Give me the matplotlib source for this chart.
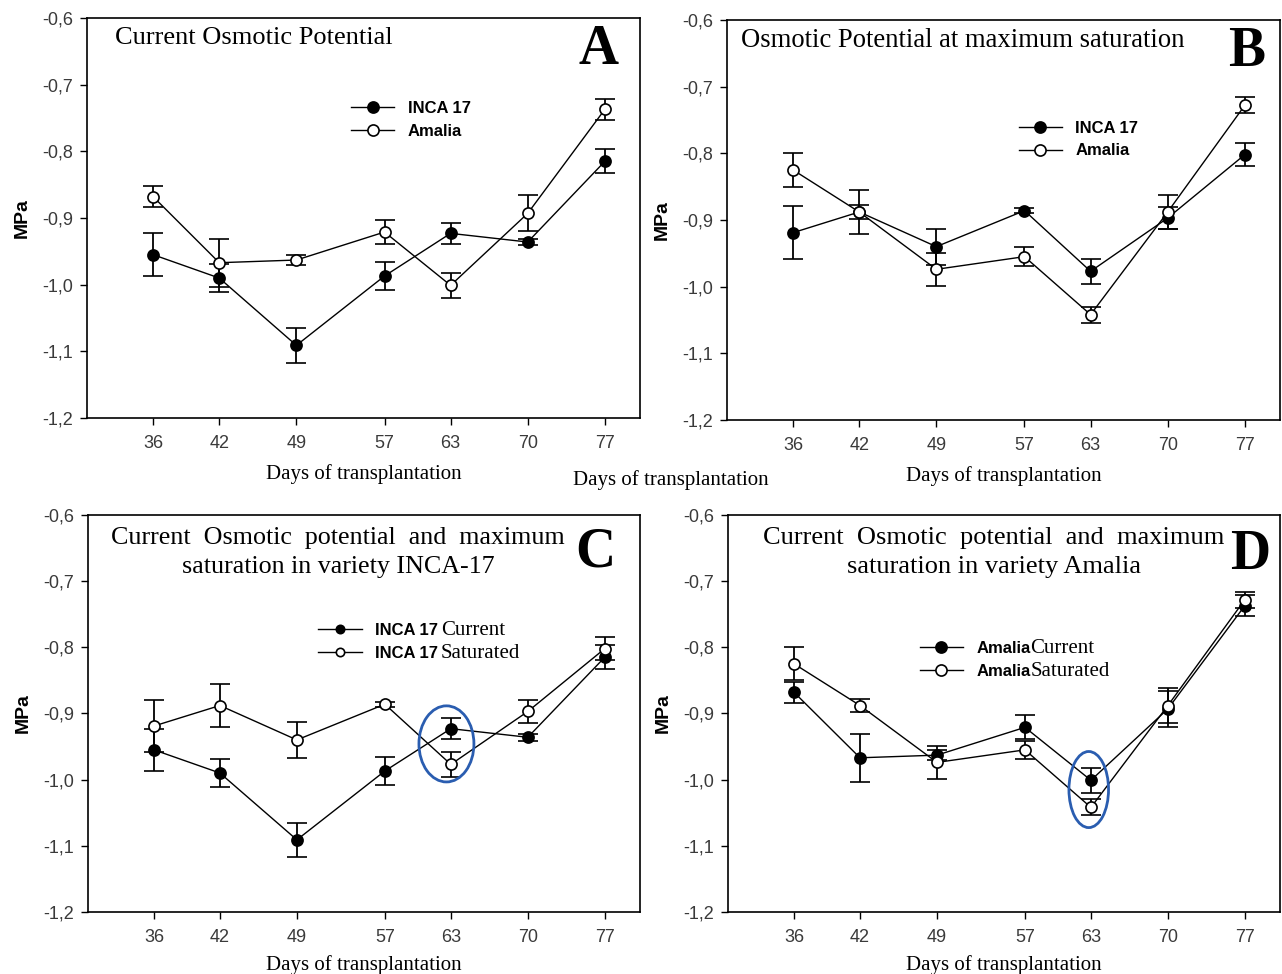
import matplotlib
matplotlib.use("Agg")
import matplotlib.pyplot as plt
from matplotlib.lines import Line2D
from matplotlib.patches import Ellipse
from matplotlib.ticker import FuncFormatter

days = [36, 42, 49, 57, 63, 70, 77]

# current osmotic potential (MPa)
inca_cur = [-0.955, -0.990, -1.091, -0.987, -0.923, -0.936, -0.815]
inca_cur_err = [0.032, 0.021, 0.026, 0.021, 0.016, 0.005, 0.018]
amalia_cur = [-0.868, -0.967, -0.963, -0.921, -1.001, -0.893, -0.737]
amalia_cur_err = [0.016, 0.036, 0.008, 0.018, 0.019, 0.027, 0.016]

# osmotic potential at maximum saturation (MPa)
inca_sat = [-0.919, -0.888, -0.940, -0.886, -0.977, -0.897, -0.802]
inca_sat_err = [0.040, 0.033, 0.027, 0.004, 0.019, 0.017, 0.017]
amalia_sat = [-0.825, -0.888, -0.974, -0.955, -1.042, -0.888, -0.728]
amalia_sat_err = [0.025, 0.010, 0.025, 0.014, 0.012, 0.026, 0.012]

yticks = [-1.2, -1.1, -1.0, -0.9, -0.8, -0.7, -0.6]

SERIF = "Liberation Serif"
SANS = "Liberation Sans"
TICK_COLOR = "#3a3a3a"


def comma_fmt(v, pos):
    return ("%.1f" % v).replace(".", ",")


def setup_axes(ax, xpad=9):
    ax.set_xlim(30, 80.2)
    ax.set_ylim(-1.2, -0.6)
    ax.set_xticks(days)
    ax.set_yticks(yticks)
    ax.yaxis.set_major_formatter(FuncFormatter(comma_fmt))
    ax.tick_params(direction="out", length=5, width=1, pad=7,
                   labelsize=13, labelcolor=TICK_COLOR)
    ax.tick_params(axis="y", pad=5)
    for lab in ax.get_xticklabels() + ax.get_yticklabels():
        lab.set_fontfamily(SANS)
    for sp in ax.spines.values():
        sp.set_linewidth(1.2)
    ax.set_xlabel("Days of transplantation", fontfamily=SERIF, fontsize=15, labelpad=xpad)
    ax.set_ylabel("MPa", fontfamily=SANS, fontsize=14, fontweight="bold", labelpad=8)


def draw_series(ax, y, err, filled, ms=8):
    face = "black" if filled else "white"
    ax.errorbar(days, y, yerr=err, color="black", lw=1.0, elinewidth=1.3,
                capsize=7, capthick=1.3, marker="o", ms=ms,
                mfc=face, mec="black", mew=1.2, zorder=3)
    return Line2D([], [], color="black", lw=1.0, marker="o", ms=ms,
                  mfc=face, mec="black", mew=1.2)


def add_legend(ax, handles, labels, anchor, markerscale=1.0):
    return ax.legend(handles, labels, loc="upper left", bbox_to_anchor=anchor,
                     frameon=False, prop={"family": SANS, "weight": "bold", "size": 12},
                     handlelength=2.6, handletextpad=0.8, labelspacing=0.45,
                     markerscale=markerscale)


fig = plt.figure(figsize=(12.82, 9.74), dpi=100)
axA = fig.add_axes([0.0679, 0.5708, 0.4314, 0.4107])
axB = fig.add_axes([0.5671, 0.5688, 0.4314, 0.4107])
axC = fig.add_axes([0.0686, 0.0637, 0.4306, 0.4076])
axD = fig.add_axes([0.5679, 0.0637, 0.4306, 0.4076])

setup_axes(axA)
setup_axes(axB)
setup_axes(axC, xpad=7)
setup_axes(axD, xpad=7)

# A
h1 = draw_series(axA, inca_cur, inca_cur_err, True)
h2 = draw_series(axA, amalia_cur, amalia_cur_err, False)
add_legend(axA, [h1, h2], ["INCA 17", "Amalia"], (0.45, 0.83))
axA.text(0.05, 0.95, "Current Osmotic Potential", transform=axA.transAxes,
         fontfamily=SERIF, fontsize=19, va="center", ha="left")
axA.text(0.925, 0.92, "A", transform=axA.transAxes, fontfamily=SERIF,
         fontsize=40, fontweight="bold", ha="center", va="center")

# B
h1 = draw_series(axB, inca_sat, inca_sat_err, True)
h2 = draw_series(axB, amalia_sat, amalia_sat_err, False)
add_legend(axB, [h1, h2], ["INCA 17", "Amalia"], (0.50, 0.785))
axB.text(0.025, 0.948, "Osmotic Potential at maximum saturation", transform=axB.transAxes,
         fontfamily=SERIF, fontsize=19.2, va="center", ha="left")
axB.text(0.94, 0.92, "B", transform=axB.transAxes, fontfamily=SERIF,
         fontsize=40, fontweight="bold", ha="center", va="center")

# C
h1 = draw_series(axC, inca_cur, inca_cur_err, True)
h2 = draw_series(axC, inca_sat, inca_sat_err, False)
legC = add_legend(axC, [h1, h2], ["INCA 17", "INCA 17"], (0.39, 0.765), markerscale=0.75)
axC.text(0.453, 0.905, "Current  Osmotic  potential  and  maximum\nsaturation in variety INCA-17",
         transform=axC.transAxes, fontfamily=SERIF, fontsize=18.7, va="center", ha="center",
         linespacing=1.38)
axC.text(0.92, 0.905, "C", transform=axC.transAxes, fontfamily=SERIF,
         fontsize=40, fontweight="bold", ha="center", va="center")
axC.add_patch(Ellipse((62.6, -0.946), 5.0, 0.115, fill=False, ec="#2a5db0", lw=2, zorder=4))

# D
h1 = draw_series(axD, amalia_cur, amalia_cur_err, True)
h2 = draw_series(axD, amalia_sat, amalia_sat_err, False)
legD = add_legend(axD, [h1, h2], ["Amalia", "Amalia"], (0.32, 0.72))
axD.text(0.482, 0.905, "Current  Osmotic  potential  and  maximum\nsaturation in variety Amalia",
         transform=axD.transAxes, fontfamily=SERIF, fontsize=19, va="center", ha="center",
         linespacing=1.38)
axD.text(0.945, 0.9, "D", transform=axD.transAxes, fontfamily=SERIF,
         fontsize=40, fontweight="bold", ha="center", va="center")
axD.add_patch(Ellipse((62.8, -1.015), 3.6, 0.115, fill=False, ec="#2a5db0", lw=2, zorder=4))

# serif suffixes after the bold legend labels in C and D (drawn after the legend)
for leg, gap in ((legC, 2), (legD, 0)):
    for txt, word in zip(leg.get_texts(), ["Current", "Saturated"]):
        leg.axes.annotate(word, xy=(1, 0.2), xycoords=txt, xytext=(gap, 0),
                          textcoords="offset points", fontfamily=SERIF, fontsize=15,
                          ha="left", va="baseline", zorder=10)

fig.text(0.523, 1 - 480 / 974, "Days of transplantation", fontfamily=SERIF,
         fontsize=15, ha="center", va="center")

fig.savefig("out.png", dpi=100)
